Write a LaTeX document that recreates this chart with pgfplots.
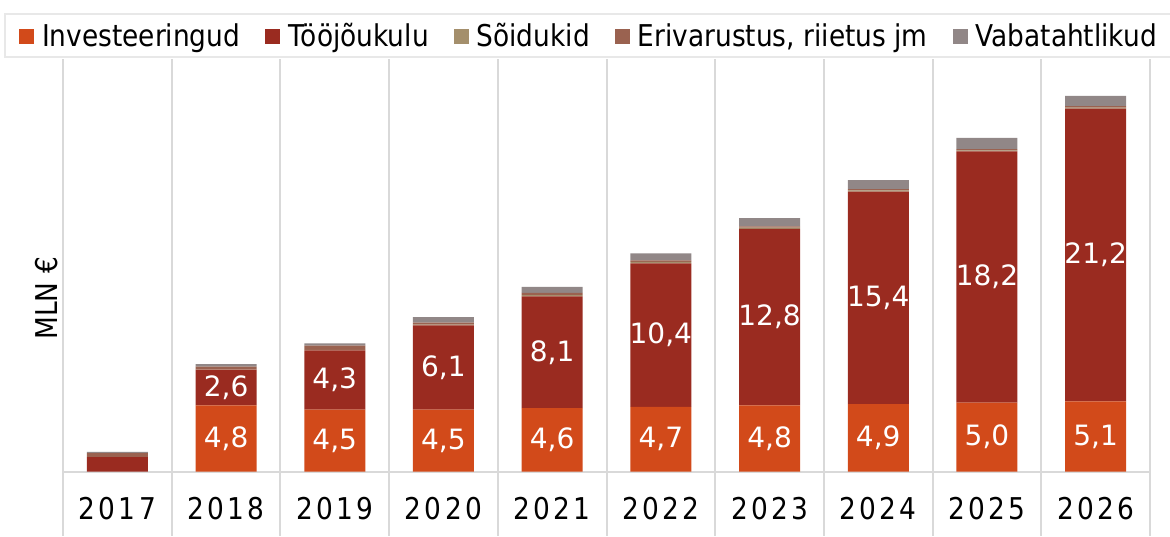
\documentclass[border=0pt]{standalone}
\usepackage{pgfplots}
\pgfplotsset{compat=1.18}
\usepackage{pgfplotstable}
\usepackage{fontspec}
\setmainfont{DejaVu Sans}[FakeStretch=0.88]
\newfontfamily\yearfont{DejaVu Sans}[FakeStretch=0.88,LetterSpace=11]
\newfontfamily\labelfont{DejaVu Sans}

\definecolor{invest}{HTML}{D24A1A}
\definecolor{toojoud}{HTML}{9A2B20}
\definecolor{soidukid}{HTML}{A48F6C}
\definecolor{erivar}{HTML}{9A6250}
\definecolor{vaba}{HTML}{918787}
\definecolor{gridgray}{HTML}{D9D9D9}
\definecolor{boxgray}{HTML}{E8E8E8}

% mln eurot aastas
\pgfplotstableread{
x inv invl too  tool soi  eri  vab
0 0   {}   1.05 {}   0.00 0.30 0.08
1 4.8 4,8  2.6  2,6  0.02 0.20 0.17
2 4.5 4,5  4.3  4,3  0.03 0.30 0.17
3 4.5 4,5  6.1  6,1  0.05 0.15 0.40
4 4.6 4,6  8.1  8,1  0.10 0.15 0.45
5 4.7 4,7  10.4 10,4 0.10 0.12 0.50
6 4.8 4,8  12.8 12,8 0.08 0.10 0.60
7 4.9 4,9  15.4 15,4 0.08 0.10 0.65
8 5.0 5,0  18.2 18,2 0.08 0.10 0.80
9 5.1 5,1  21.2 21,2 0.08 0.10 0.75
}\kulud

\begin{document}
\begin{tikzpicture}
\begin{axis}[
    name=ax,
    scale only axis,
    width=1087bp, height=412.7bp,
    xmin=-0.5, xmax=9.5, ymin=0, ymax=29.9,
    ybar stacked, bar width=61bp,
    axis x line*=bottom,
    x axis line style={draw=gridgray, line width=2bp, -},
    y axis line style={draw=none},
    ytick=\empty,
    xtick={0,...,9},
    xticklabels={2017,2018,2019,2020,2021,2022,2023,2024,2025,2026},
    major tick length=0pt,
    xticklabel style={font=\yearfont\fontsize{30bp}{36bp}\selectfont, inner sep=0pt, anchor=north, yshift=-25bp},
    extra x ticks={-0.5,0.5,...,9.5},
    extra x tick labels={},
    extra x tick style={grid=major, major grid style={draw=gridgray, line width=2bp},
        tick style={draw=gridgray, line width=2bp}, major tick length=64bp, tick align=outside},
    ylabel={MLN €},
    ylabel style={font=\fontsize{30bp}{36bp}\selectfont, at={([xshift=-6bp]axis description cs:0,0.42)}, anchor=base, inner sep=0pt},
    legend columns=-1,
    legend style={at={([xshift=-17bp,yshift=1bp]axis description cs:0.5,1)}, anchor=south,
        draw=boxgray, line width=2bp, font=\fontsize{30bp}{36bp}\selectfont,
        inner xsep=14bp, inner ysep=6bp,
        nodes={inner sep=3bp},
        /tikz/every odd column/.append style={column sep=5bp},
        /tikz/every even column/.append style={column sep=22bp}},
    legend image code/.code={\fill[#1] (0bp,-8.5bp) rectangle (15bp,6.5bp);},
    every node near coord/.append style={anchor=center, text=white, font=\labelfont\fontsize{28bp}{34bp}\selectfont},
]
\addplot[fill=invest, draw=none, nodes near coords, point meta=explicit symbolic]
    table[x=x, y=inv, meta=invl]{\kulud};
\addlegendentry{Investeeringud}
\addplot[fill=toojoud, draw=none, nodes near coords, point meta=explicit symbolic]
    table[x=x, y=too, meta=tool]{\kulud};
\addlegendentry{Tööjõukulu}
\addplot[fill=soidukid, draw=none] table[x=x, y=soi]{\kulud};
\addlegendentry{Sõidukid}
\addplot[fill=erivar, draw=none] table[x=x, y=eri]{\kulud};
\addlegendentry{Erivarustus, riietus jm}
\addplot[fill=vaba, draw=none] table[x=x, y=vab]{\kulud};
\addlegendentry{Vabatahtlikud}
\end{axis}
\pgfresetboundingbox
\path[use as bounding box] ([xshift=-63bp,yshift=-64.3bp]ax.south west) rectangle ([xshift=20bp,yshift=59bp]ax.north east);
\end{tikzpicture}
\end{document}
